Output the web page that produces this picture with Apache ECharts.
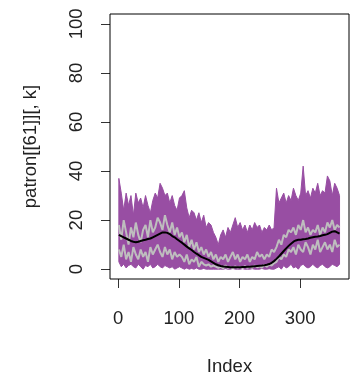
<!DOCTYPE html>
<html>
<head>
<meta charset="utf-8">
<script src="https://cdn.jsdelivr.net/npm/echarts@6/dist/echarts.min.js"></script>
<style>html,body{margin:0;padding:0;background:#fff;}#c{width:362px;height:381px;}</style>
</head>
<body>
<div id="c"></div>
<script>
// Index step of 4 days: 1,5,...,365
const xTicks = [0, 100, 200, 300];
const yTicks = [0, 20, 40, 60, 80, 100];
const xTitle = 'Index';
const yTitle = 'patron[[61]][, k]';

const purpleHi = [37,31,24,31,26,30,22,31,27,29,25,30,26,23,28,31,29,35,33,30,31,27,30,26,24,29,
  30,32,25,21,24,23,20,23,19,22,17,19,18,15,13,
  10,14,16,13,17,15,18,21,17,19,16,18,15,18,16,19,17,18,15,17,16,18,16,17,
  33,27,29,31,27,30,28,33,30,28,31,42,30,32,29,33,31,35,30,32,31,38,36,30,35,33,30];
const purpleLo = [3,1,2,0.5,1.5,2,1,0.5,2,1,0,1.5,1,2,0.5,1,2,1,0.5,1.5,1,0.5,1,0,0.5,1,
  0.5,0,0.5,0,0.3,0,0.5,0,0,0.3,0,0,0,0,0,
  0,0,0,0.2,0,0,0.3,0,0,0,0.2,0,0,0,0.2,0,0,0,0.3,0,0,0.2,0,0,
  0.5,1,0,1.5,0.5,1,2,0.5,1,0,1.5,2,1,0.5,1,2,1,0.5,1.5,2,1,0.5,1,2,1.5,1,2];
const grayA = [18,12,20,15,10,17,13,19,14,11,16,18,13,20,15,17,21,19,16,22,18,15,19,14,17,13,
  15,11,14,9,12,8,11,7,9,6,8,5,7,4,6,
  3,5,4,6,3,5,7,4,6,3,5,4,6,3,5,4,7,5,6,4,6,5,8,7,
  9,12,10,14,13,16,15,17,14,18,16,20,15,17,14,16,15,18,14,17,15,19,17,20,16,18,17];
const grayB = [8,5,10,4,7,3,9,6,4,8,5,7,3,9,6,8,10,7,5,9,6,8,4,7,5,6,
  5,3,6,2,4,3,5,1,3,2,1.5,2,1,1.5,1,
  0.5,1,0.3,1.5,0.5,1,0.3,1.2,0.5,1,0.4,1.3,0.5,1,0.6,1.5,0.8,1.2,0.6,1.8,1,2,1.5,2.5,
  3,5,4,6,5,8,7,9,6,10,8,7,11,9,6,10,8,12,7,9,11,8,10,7,12,9,10];
const meanLine = [14,13.5,13,12.5,12,11.5,11.2,11,11.2,11.5,11.8,12,12.3,12.5,13,13.5,14,14.5,15,15,14.8,14.3,13.5,13,12.2,11.5,
  10.8,10,9.2,8.5,7.8,7,6.3,5.7,5,4.6,4.2,3.8,3.2,2.6,2,
  1.6,1.3,1.1,1,0.9,0.8,0.8,0.8,0.8,0.8,0.9,0.9,1,1,1.1,1.2,1.3,1.4,1.5,1.6,1.8,2.1,2.6,3.3,
  4.2,5.2,6.3,7.4,8.5,9.5,10.4,11.2,11.7,12,12,12.2,12.3,12.5,12.8,13,13.2,13.3,13.5,13.8,14,14.3,14.8,15.3,15.5,15,14.5];

const index = purpleHi.map((_, i) => 1 + 4 * i);
const pair = arr => arr.map((v, i) => [index[i], v]);

const font = '"Liberation Sans", Arial, Helvetica, sans-serif';
const purple = '#984EA3';
const chart = echarts.init(document.getElementById('c'), null, {renderer: 'canvas'});
chart.setOption({
  animation: false,
  backgroundColor: '#fff',
  grid: {left: 110, right: 13, top: 14, bottom: 95, show: true, borderColor: '#000', borderWidth: 1, backgroundColor: 'transparent', z: 10},
  xAxis: {
    type: 'value', min: -13.6, max: 380.6,
    name: xTitle, nameLocation: 'middle', nameGap: 78,
    nameTextStyle: {fontFamily: font, fontSize: 18.5, color: '#222'},
    axisLine: {show: false, onZero: false},
    splitLine: {show: false},
    axisTick: {show: true, length: 9, customValues: xTicks, lineStyle: {color: '#333', width: 1}},
    axisLabel: {customValues: xTicks, fontFamily: font, fontSize: 18.5, color: '#222', margin: 30}
  },
  yAxis: {
    type: 'value', min: -4, max: 104,
    name: yTitle, nameLocation: 'middle', nameGap: 70, nameRotate: 90,
    nameTextStyle: {fontFamily: font, fontSize: 18.5, color: '#222'},
    axisLine: {show: false, onZero: false},
    splitLine: {show: false},
    axisTick: {show: true, length: 9, customValues: yTicks, lineStyle: {color: '#333', width: 1}},
    axisLabel: {customValues: yTicks, rotate: 90, fontFamily: font, fontSize: 18.5, color: '#222', margin: 24}
  },
  series: [
    {
      type: 'custom', silent: true,
      data: [[index[0], purpleHi[0]]],
      encode: {x: 0, y: 1},
      renderItem: function (params, api) {
        const pts = [];
        for (let i = 0; i < index.length; i++) pts.push(api.coord([index[i], purpleHi[i]]));
        for (let i = index.length - 1; i >= 0; i--) pts.push(api.coord([index[i], purpleLo[i]]));
        return {type: 'polygon', shape: {points: pts}, style: {fill: purple, stroke: purple, lineWidth: 1}};
      }
    },
    {type: 'line', data: pair(grayA), symbol: 'none', lineStyle: {color: '#BEBEBE', width: 2}, silent: true},
    {type: 'line', data: pair(grayB), symbol: 'none', lineStyle: {color: '#BEBEBE', width: 2}, silent: true},
    {type: 'line', data: pair(meanLine), symbol: 'none', lineStyle: {color: '#000', width: 2}, silent: true}
  ]
});
</script>
</body>
</html>
